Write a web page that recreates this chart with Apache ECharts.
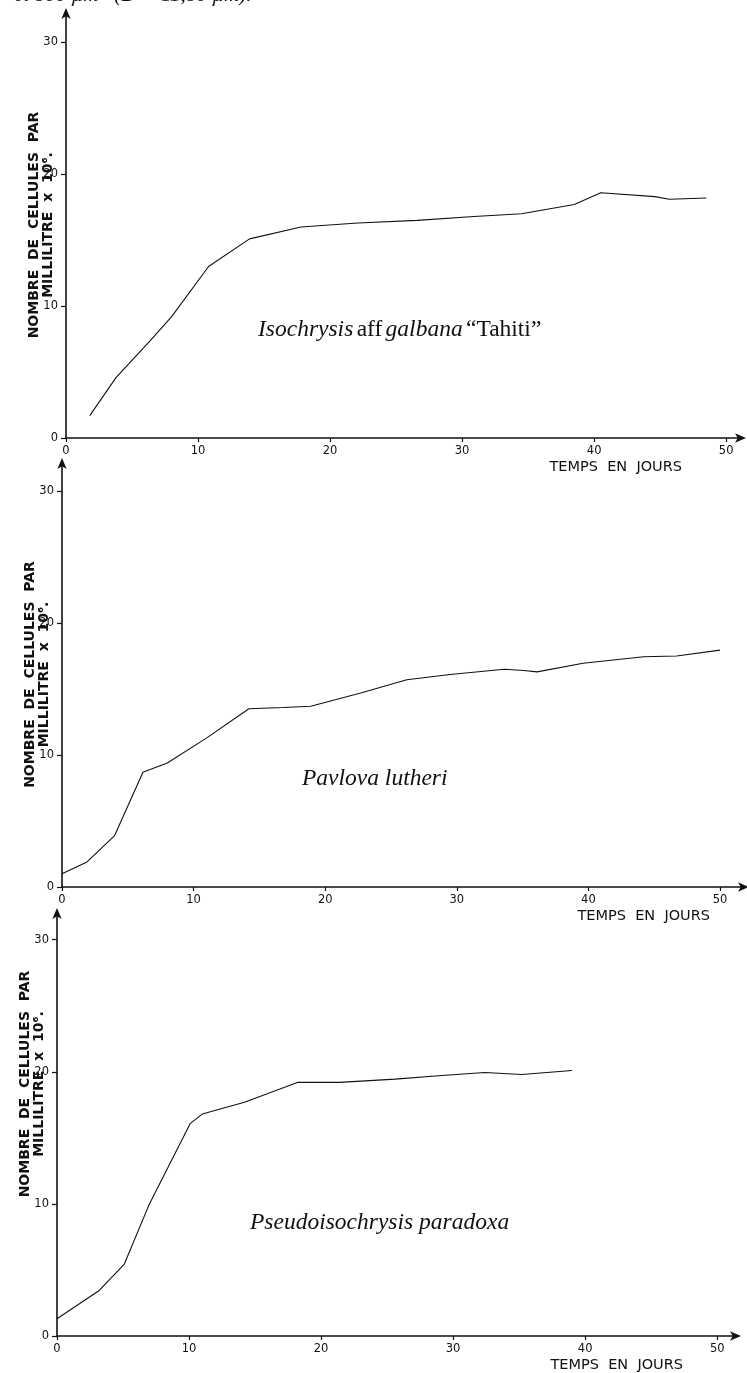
<!DOCTYPE html>
<html>
<head>
<meta charset="utf-8">
<script src="https://cdn.jsdelivr.net/npm/echarts@6/dist/echarts.min.js"></script>
<style>
html,body{margin:0;padding:0;background:#fff;}
#main{width:747px;height:1373px;}
</style>
</head>
<body>
<div id="main"></div>
<script>
// courbes de croissance - 3 especes
var xTicks = [0, 10, 20, 30, 40, 50];
var yTicks = [0, 10, 20, 30];

// Isochrysis aff galbana "Tahiti"
var isoJours = [1.8, 3.8, 6.4, 8.0, 10.8, 13.9, 17.8, 22.1, 26.6, 30.9, 34.5, 38.5, 40.5, 44.6, 45.7, 48.5];
var isoCellules = [1.7, 4.6, 7.4, 9.2, 13.0, 15.1, 16.0, 16.3, 16.5, 16.8, 17.0, 17.7, 18.6, 18.3, 18.1, 18.2];

// Pavlova lutheri
var pavJours = [0, 1.9, 4.0, 6.15, 8.0, 11.0, 14.2, 16.8, 18.9, 22.7, 26.2, 29.5, 33.6, 35.1, 36.1, 39.6, 44.2, 46.7, 50.0];
var pavCellules = [1.0, 1.9, 3.9, 8.7, 9.4, 11.3, 13.5, 13.6, 13.7, 14.7, 15.7, 16.1, 16.5, 16.4, 16.3, 16.95, 17.45, 17.5, 17.95];

// Pseudoisochrysis paradoxa
var pseJours = [0, 3.2, 5.1, 7.0, 10.1, 11.0, 14.2, 18.2, 21.4, 25.6, 28.9, 32.4, 35.2, 39.0];
var pseCellules = [1.3, 3.45, 5.45, 10.0, 16.1, 16.8, 17.7, 19.2, 19.2, 19.45, 19.7, 19.95, 19.8, 20.1];

function paires(xs, ys) {
	var out = [];
	for (var i = 0; i < xs.length; i++) {
		out.push([xs[i], ys[i]]);
	}
	return out;
}

var grids = [
	{left: 66, top: 12, width: 676, height: 426},
	{left: 62, top: 462, width: 683, height: 425},
	{left: 57, top: 912, width: 680, height: 424}
];
var xMax = [51.2, 51.9, 51.5];
var yMax = [32.3, 32.2, 32.1];
var namePad = [0, 0, 80]; // decalage du titre vertical
var xNameGap = [-60, -35, -54];

var axisFont = {color: '#111', fontSize: 11.5, fontFamily: 'DejaVu Sans'};
var xAxes = [], yAxes = [], series = [];
var donnees = [paires(isoJours, isoCellules), paires(pavJours, pavCellules), paires(pseJours, pseCellules)];

for (var k = 0; k < 3; k++) {
	xAxes.push({
		type: 'value', gridIndex: k, min: 0, max: xMax[k],
		splitLine: {show: false},
		axisLine: {onZero: false, symbol: ['none', 'arrow'], symbolSize: [7, 11], symbolOffset: [0, 4], lineStyle: {color: '#111', width: 1.6}},
		axisTick: {customValues: xTicks, length: 4, lineStyle: {color: '#111', width: 1.2}},
		axisLabel: Object.assign({customValues: xTicks, margin: 7}, axisFont),
		name: 'TEMPS  EN  JOURS',
		nameLocation: 'end',
		nameGap: xNameGap[k],
		nameMoveOverlap: false,
		nameTextStyle: {align: 'right', verticalAlign: 'top', padding: [22, 0, 0, 0], color: '#111', fontSize: 14.5, fontFamily: 'DejaVu Sans'}
	});
	yAxes.push({
		type: 'value', gridIndex: k, min: 0, max: yMax[k],
		splitLine: {show: false},
		axisLine: {onZero: false, symbol: ['none', 'arrow'], symbolSize: [7, 11], symbolOffset: [0, 4], lineStyle: {color: '#111', width: 1.6}},
		axisTick: {customValues: yTicks, length: 5, lineStyle: {color: '#111', width: 1.2}},
		axisLabel: Object.assign({customValues: yTicks, margin: 8}, axisFont),
		name: 'NOMBRE  DE  CELLULES  PAR\nMILLILITRE  x  10\u2076.',
		nameLocation: 'middle',
		nameRotate: 90,
		nameGap: 10,
		nameMoveOverlap: false,
		nameTextStyle: {color: '#111', fontSize: 14, fontWeight: 'bold', fontFamily: 'DejaVu Sans', lineHeight: 14.5, padding: [0, 0, 0, namePad[k]]}
	});
	series.push({
		type: 'line', xAxisIndex: k, yAxisIndex: k,
		data: donnees[k],
		symbol: 'none',
		lineStyle: {color: '#111', width: 1.1},
		animation: false
	});
}

var serif = 'Liberation Serif';
var myChart = echarts.init(document.getElementById('main'));
myChart.setOption({
	backgroundColor: '#fff',
	animation: false,
	grid: grids,
	xAxis: xAxes,
	yAxis: yAxes,
	series: series,
	graphic: [
		{type: 'text', left: 14, top: -15, style: {text: 'et 800 \u00b5m   (D = 11,80 \u00b5m).', font: 'italic 21px ' + serif, fill: '#111'}},
		{type: 'text', left: 258, top: 318, style: {
			text: '{i|Isochrysis} {n|aff} {i|galbana} {n|\u201cTahiti\u201d}',
			fill: '#111',
			rich: {
				i: {fontStyle: 'italic', fontSize: 23.5, fontFamily: serif},
				n: {fontSize: 23.5, fontFamily: serif}
			}
		}},
		{type: 'text', left: 302, top: 767, style: {text: 'Pavlova lutheri', font: 'italic 23.5px ' + serif, fill: '#111'}},
		{type: 'text', left: 250, top: 1211, style: {text: 'Pseudoisochrysis paradoxa', font: 'italic 23.5px ' + serif, fill: '#111'}}
	]
});
</script>
</body>
</html>
